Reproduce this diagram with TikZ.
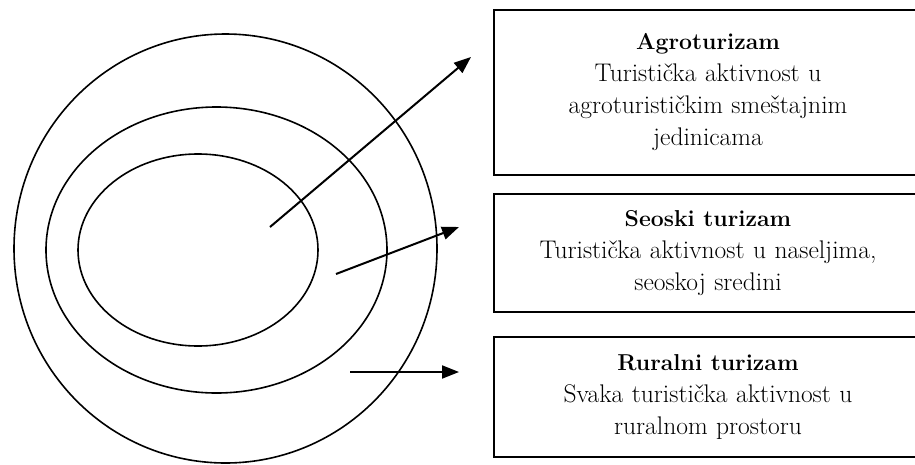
\documentclass[tikz,border=0pt]{standalone}
\usetikzlibrary{arrows.meta, positioning}

\newcommand{\boxtitle}[1]{{\fontsize{23}{32}\selectfont\textbf{#1}}}

\begin{document}
\begin{tikzpicture}[
  x=1pt, y=-1pt,
  ring/.style={draw, line width=1.6pt},
  box/.style={draw, rectangle, line width=1.8pt, minimum width=428pt,
              text width=420pt, align=center, inner sep=0pt,
              font=\fontsize{25.5}{32}\selectfont},
  arr/.style={line width=2pt, -{Triangle[length=17pt, width=13pt]}}
]
  \useasboundingbox (0,0) rectangle (915,464);
  % rings
  \draw[ring] (225.5,248.5) ellipse [x radius=211.5pt, y radius=214.5pt];
  \draw[ring] (216.5,250) ellipse [x radius=170.5pt, y radius=143pt];
  \draw[ring] (198,250) ellipse [x radius=120pt, y radius=96pt];
  % boxes
  \node[box, minimum height=165pt] (agro) at (708,92.5)
    {\boxtitle{Agroturizam}\\Turistička aktivnost u\\agroturističkim smeštajnim\\jedinicama};
  \node[box, minimum height=118pt, below=17pt of agro] (seo)
    {\boxtitle{Seoski turizam}\\Turistička aktivnost u naseljima,\\seoskoj sredini};
  \node[box, minimum height=120pt, below=23pt of seo] (rur)
    {\boxtitle{Ruralni turizam}\\Svaka turistička aktivnost u\\ruralnom prostoru};
  % arrows
  \coordinate (a1) at (270,227);
  \coordinate (a2) at (471,57);
  \coordinate (s1) at (336,274);
  \coordinate (s2) at (459,227);
  \coordinate (r1) at (350,372);
  \coordinate (r2) at (459,372);
  \foreach \x/\y in {a1/a2, s1/s2, r1/r2}
    \draw[arr] (\x) -- (\y);
\end{tikzpicture}
\end{document}
